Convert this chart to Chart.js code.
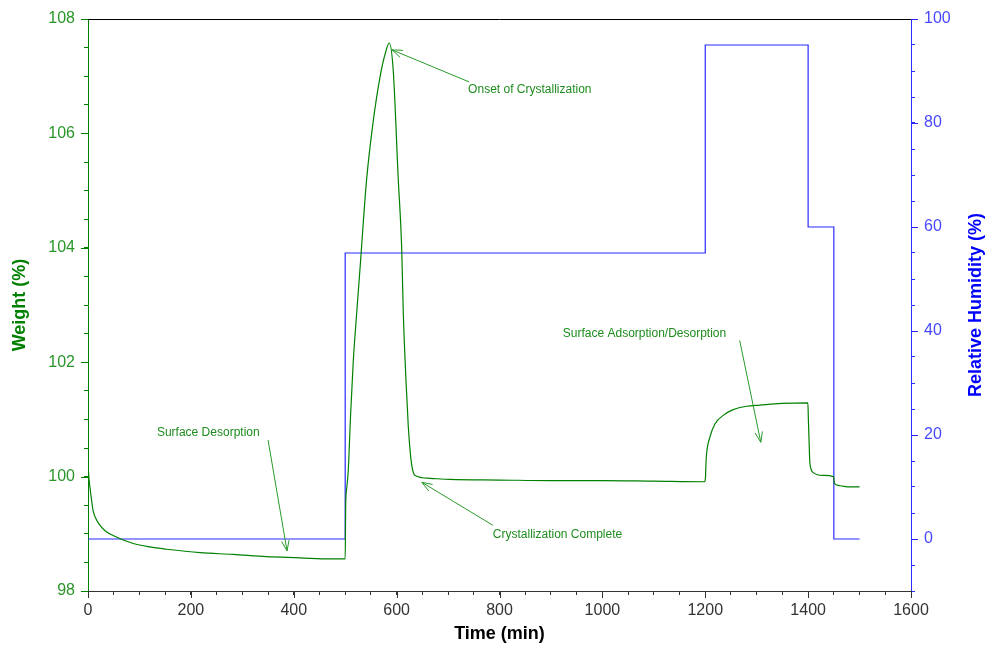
<!DOCTYPE html>
<html>
<head>
<meta charset="utf-8">
<script src="https://cdn.jsdelivr.net/npm/chart.js@4"></script>
<style>
  body { margin: 0; background: #fff; }
  #wrap { width: 988px; height: 646px; }
</style>
</head>
<body>
<div id="wrap"><canvas id="dvs"></canvas></div>
<script>
// weight trace (time in min, weight in %)
const weightTime = [0, 2, 4, 7, 10, 15, 23, 35, 56, 88, 120, 153, 218, 282, 347, 412, 470, 500,
  501, 503, 506, 510.6, 515.8, 522.3, 530, 535, 541.7, 554.6, 567.6, 577.4, 585.7, 593.5, 603,
  609.8, 613, 618.2, 622.7, 627.3, 631, 635.7, 664.8, 703.7, 800, 900, 1000, 1100, 1199,
  1200.5, 1201.4, 1202.6, 1209, 1218.8, 1235, 1254.5, 1280.5, 1306, 1348.5, 1399.5,
  1400.5, 1401.6, 1403.5, 1410, 1429, 1449.5, 1451, 1462, 1481, 1500];
const weightValues = [100.23, 99.95, 99.8, 99.58, 99.4, 99.27, 99.15, 99.04, 98.94, 98.83, 98.77, 98.73, 98.67, 98.64, 98.6, 98.58, 98.56, 98.56,
  99.5, 99.8, 100.11, 101.1, 102.03, 102.85, 103.78, 104.42, 105.2, 106.22, 106.98, 107.38, 107.58, 107.09, 105.23,
  104.01, 102.85, 101.68, 100.87, 100.35, 100.12, 100.02, 99.97, 99.95, 99.94, 99.93, 99.93, 99.92, 99.91,
  100.0, 100.23, 100.4, 100.69, 100.92, 101.07, 101.17, 101.23, 101.25, 101.28, 101.29,
  101.0, 100.69, 100.23, 100.07, 100.02, 100.0, 99.88, 99.84, 99.82, 99.82];

// relative humidity steps (value holds until next time)
const rhTime = [0, 500, 1200, 1400, 1450, 1500];
const rhValues = [0, 55, 95, 60, 0, 0];

// axis ranges / labels
const timeMin = 0, timeMax = 1600, timeMinor = 50, timeMajor = 200;
const weightMin = 98, weightMax = 108, weightMinor = 0.5, weightMajor = 2;
const rhMin = -10, rhMax = 100, rhMinor = 5, rhMajor = 20;

// annotations: text anchor and arrow (time, weight)
const notes = [
  { text: 'Onset of Crystallization', at: [739, 106.76], from: [741, 106.9], to: [591, 107.46] },
  { text: 'Crystallization Complete', at: [787, 98.98], from: [787, 99.15], to: [649, 99.9] },
  { text: 'Surface Desorption', at: [134, 100.77], from: [350, 100.64], to: [387, 98.7] },
  { text: 'Surface Adsorption/Desorption', at: [923, 102.5], from: [1267, 102.38], to: [1308, 100.6] }
];

const GREEN = '#008000';
const BLUE = '#2b2bff';
const FONT = "'Liberation Sans', Arial, sans-serif";

const toPts = (xs, ys) => xs.map((x, i) => ({ x: x, y: ys[i] }));

const extrasPlugin = {
  id: 'extras',
  afterDraw(chart) {
    const ctx = chart.ctx;
    const area = chart.chartArea;
    const xs = chart.scales.x, ys = chart.scales.y, rs = chart.scales.y1;
    ctx.save();
    // top frame line
    ctx.strokeStyle = '#000';
    ctx.lineWidth = 1;
    ctx.beginPath();
    ctx.moveTo(area.left, area.top + 0.5);
    ctx.lineTo(area.right, area.top + 0.5);
    ctx.stroke();

    // longer major ticks
    const major = (scale, color, dir) => {
      ctx.strokeStyle = color;
      scale.ticks.forEach((t, i) => {
        if (t.label === '') return;
        const p = Math.round(scale.getPixelForTick(i)) + 0.5;
        ctx.beginPath();
        if (dir === 'b') { ctx.moveTo(p, area.bottom); ctx.lineTo(p, area.bottom + 7); }
        if (dir === 'l') { ctx.moveTo(area.left, p); ctx.lineTo(area.left - 7, p); }
        if (dir === 'r') { ctx.moveTo(area.right, p); ctx.lineTo(area.right + 7, p); }
        ctx.stroke();
      });
    };
    major(xs, '#333', 'b');
    major(ys, GREEN, 'l');
    major(rs, BLUE, 'r');

    // right axis title, reading bottom to top
    ctx.fillStyle = '#0000ff';
    ctx.font = 'bold 18px ' + FONT;
    ctx.textAlign = 'center';
    ctx.textBaseline = 'middle';
    ctx.translate(976, (area.top + area.bottom) / 2);
    ctx.rotate(-Math.PI / 2);
    ctx.fillText('Relative Humidity (%)', 0, 0);
    ctx.restore();

    // annotations
    ctx.save();
    ctx.font = '12px ' + FONT;
    ctx.textAlign = 'left';
    ctx.textBaseline = 'middle';
    notes.forEach(n => {
      ctx.fillStyle = '#1e8c1e';
      ctx.fillText(n.text, xs.getPixelForValue(n.at[0]), ys.getPixelForValue(n.at[1]));
      const x0 = xs.getPixelForValue(n.from[0]), y0 = ys.getPixelForValue(n.from[1]);
      const x1 = xs.getPixelForValue(n.to[0]), y1 = ys.getPixelForValue(n.to[1]);
      const a = Math.atan2(y1 - y0, x1 - x0);
      ctx.strokeStyle = '#2a9a2a';
      ctx.lineWidth = 1;
      ctx.beginPath();
      ctx.moveTo(x0, y0);
      ctx.lineTo(x1, y1);
      ctx.moveTo(x1 - 11 * Math.cos(a - 0.35), y1 - 11 * Math.sin(a - 0.35));
      ctx.lineTo(x1, y1);
      ctx.lineTo(x1 - 11 * Math.cos(a + 0.35), y1 - 11 * Math.sin(a + 0.35));
      ctx.stroke();
    });
    ctx.restore();
  }
};

new Chart(document.getElementById('dvs'), {
  type: 'line',
  data: {
    datasets: [
      {
        label: 'Weight (%)',
        data: toPts(weightTime, weightValues),
        yAxisID: 'y',
        borderColor: GREEN,
        borderWidth: 1.2,
        pointRadius: 0,
        cubicInterpolationMode: 'monotone',
        order: 1
      },
      {
        label: 'Relative Humidity (%)',
        data: toPts(rhTime, rhValues),
        yAxisID: 'y1',
        borderColor: BLUE,
        borderWidth: 1.2,
        pointRadius: 0,
        stepped: 'before',
        order: 2
      }
    ]
  },
  options: {
    responsive: true,
    maintainAspectRatio: false,
    animation: false,
    events: [],
    layout: { padding: { top: 19, left: 0, right: 0, bottom: 0 } },
    plugins: { legend: { display: false }, tooltip: { enabled: false } },
    scales: {
      x: {
        type: 'linear',
        min: timeMin, max: timeMax,
        afterFit: s => { s.height = 55; },
        grid: { drawOnChartArea: false, tickLength: 4, tickColor: '#333' },
        border: { color: '#333' },
        ticks: {
          stepSize: timeMinor, autoSkip: false, maxRotation: 0, padding: 6,
          color: '#333', font: { family: FONT, size: 16 },
          callback: v => (v % timeMajor === 0 ? String(v) : '')
        },
        title: { display: true, text: 'Time (min)', color: '#000', padding: { top: 0, bottom: 1 },
          font: { family: FONT, size: 18, weight: 'bold' } }
      },
      y: {
        position: 'left',
        min: weightMin, max: weightMax,
        afterFit: s => { s.width = 88; },
        grid: { drawOnChartArea: false, tickLength: 4, tickColor: GREEN },
        border: { color: GREEN },
        ticks: {
          stepSize: weightMinor, autoSkip: false, padding: 9,
          color: '#2a962a', font: { family: FONT, size: 16 },
          callback: v => (Math.abs(v % weightMajor) < 1e-9 ? String(v) : '')
        },
        title: { display: true, text: 'Weight (%)', color: GREEN, padding: { top: 9, bottom: 0 },
          font: { family: FONT, size: 18, weight: 'bold' } }
      },
      y1: {
        position: 'right',
        min: rhMin, max: rhMax,
        afterFit: s => { s.width = 77; },
        grid: { drawOnChartArea: false, tickLength: 4, tickColor: BLUE },
        border: { color: BLUE },
        ticks: {
          stepSize: rhMinor, autoSkip: false, padding: 9,
          color: '#4848ff', font: { family: FONT, size: 16 },
          callback: v => (v >= 0 && v % rhMajor === 0 ? String(v) : '')
        },
        title: { display: false }
      }
    }
  },
  plugins: [extrasPlugin]
});
</script>
</body>
</html>
